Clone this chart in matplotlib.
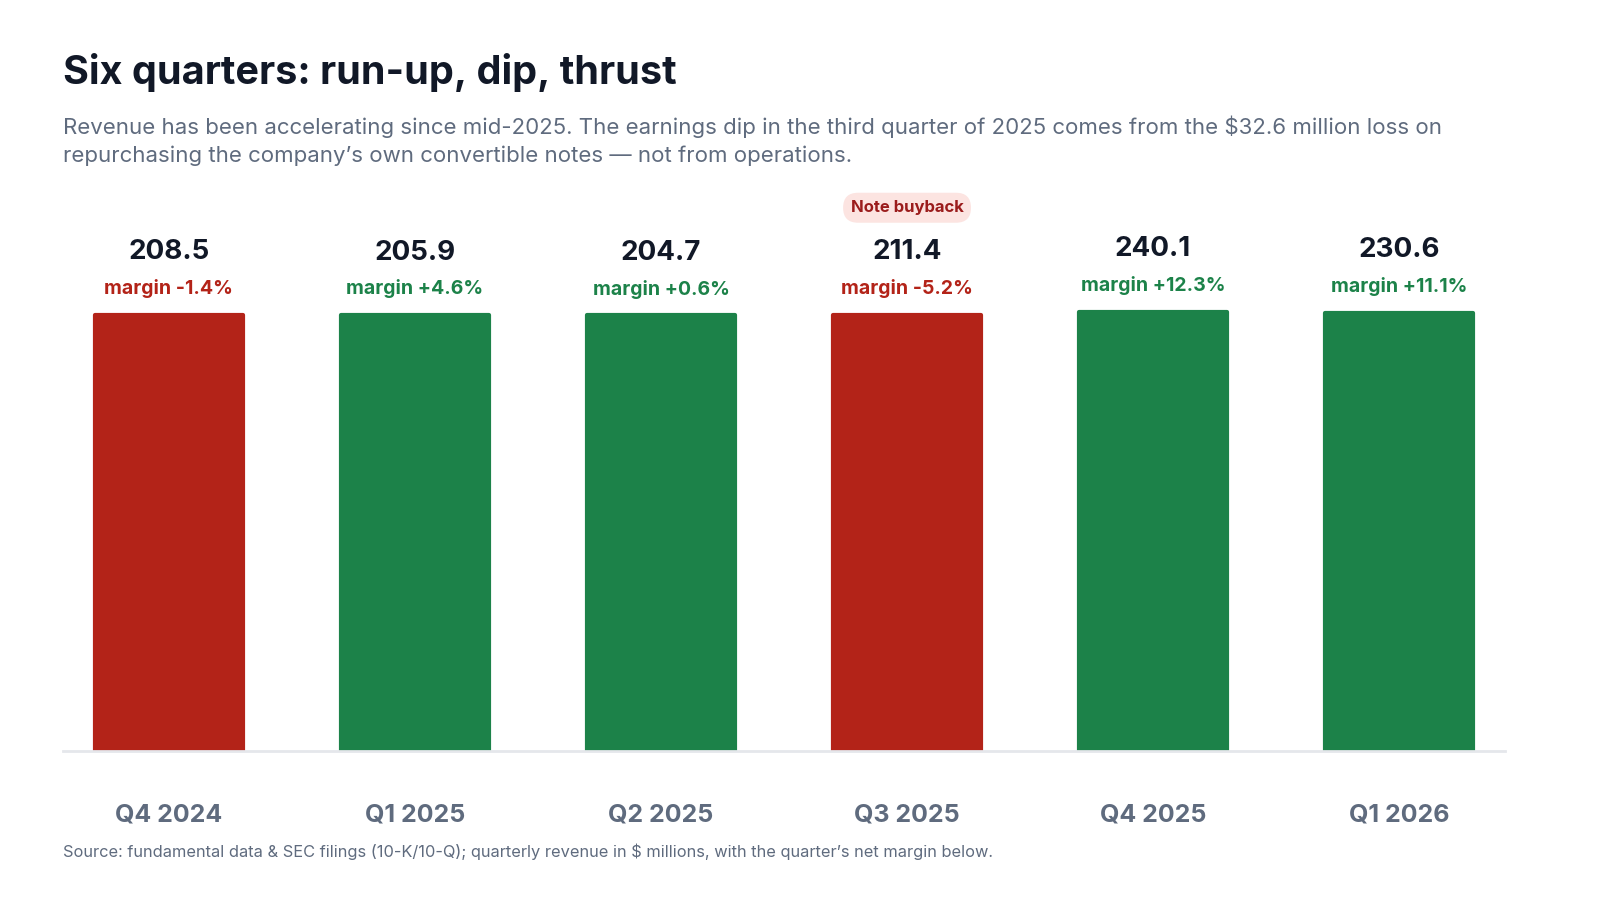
import numpy as np
from matplotlib import pyplot as plt

quarters = ['Q4 2024', 'Q1 2025', 'Q2 2025', 'Q3 2025', 'Q4 2025', 'Q1 2026']
revenue = [208.5, 205.9, 204.7, 211.4, 240.1, 230.6]
margin = [-1.4, 4.6, 0.6, -5.2, 12.3, 11.1]
flag_idx = 3
flag_text = 'Note buyback'

RED = '#B32318'
GREEN = '#1C8249'
DARK = '#111827'
GREY = '#5F6B7E'

plt.rcParams['font.family'] = ['Inter', 'DejaVu Sans']

def main():
	fig = plt.figure(figsize=(16, 9), dpi=100)
	ax = fig.add_axes([63/1600, 149/900, 1442/1600, 551/900])
	x = np.arange(len(quarters))
	colors = [RED if m < 0 else GREEN for m in margin]
	base = 1e-6
	ax.bar(x, revenue, width=0.6, color=colors, edgecolor=colors, linewidth=3,
			joinstyle='round', bottom=base)
	ax.set_yscale('log')
	ax.set_ylim(base, 32600)
	ax.set_xlim(-0.43, 5.43)
	for s in ['top', 'right', 'left']:
		ax.spines[s].set_visible(False)
	ax.spines['bottom'].set_color('#E5E7EB')
	ax.spines['bottom'].set_linewidth(2)
	ax.set_yticks([])
	ax.minorticks_off()
	ax.set_xticks(x)
	ax.set_xticklabels(quarters, fontsize=18, fontweight='bold', color=GREY)
	ax.tick_params(axis='x', length=0, pad=38)

	for i, (v, m, c) in enumerate(zip(revenue, margin, colors)):
		ax.annotate('{:.1f}'.format(v), (i, v), xytext=(0, 45), textcoords='offset points',
				ha='center', va='center', fontsize=20, fontweight='bold', color=DARK)
		ax.annotate('margin {:+.1f}%'.format(m), (i, v), xytext=(0, 19), textcoords='offset points',
				ha='center', va='center', fontsize=14, fontweight='bold', color=c)
		if i == flag_idx:
			ax.annotate(flag_text, (i, v), xytext=(0, 77), textcoords='offset points',
					ha='center', va='center', fontsize=12, fontweight='bold', color='#9B1C1C',
					bbox=dict(boxstyle='round,pad=0.45,rounding_size=0.9', fc='#FCE4E1', ec='none'))

	fig.text(63/1600, 1 - 72/900, 'Six quarters: run-up, dip, thrust', fontsize=28.5,
			fontweight='bold', color=DARK, va='center')
	fig.text(63/1600, 1 - 141/900,
			'Revenue has been accelerating since mid-2025. The earnings dip in the third quarter of 2025 comes from the $32.6 million loss on\n'
			'repurchasing the company\u2019s own convertible notes \u2014 not from operations.',
			fontsize=16, color=GREY, va='center', linespacing=1.45)
	fig.text(63/1600, 1 - 852/900,
			'Source: fundamental data & SEC filings (10-K/10-Q); quarterly revenue in $ millions, with the quarter\u2019s net margin below.',
			fontsize=11.8, color=GREY, va='center')
	plt.savefig('out.png')

if __name__ == '__main__':
	main()
